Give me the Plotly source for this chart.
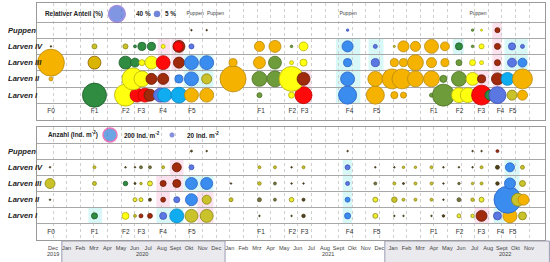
import math
import plotly.graph_objects as go

# ---------------- data ----------------
ROWS = ["Larven I", "Larven II", "Larven III", "Larven IV", "Puppen"]
ROW_Y = {"Larven I": 1, "Larven II": 2, "Larven III": 3, "Larven IV": 4, "Puppen": 5}

base_months = ["Jan", "Feb", "Mrz", "Apr", "May", "Jun", "Jul", "Aug", "Sept", "Okt", "Nov", "Dec"]
month_labels = ["Dec"] + base_months + base_months + base_months[:11]   # Dec 2019 .. Nov 2022
year_labels = ["2019", "2020", "2021", "2022"]
year_pos = [0.0, 6.55, 20.2, 33.2]

f_labels = ["F0", "F1", "F2", "F3", "F4", "F5", "F1", "F2", "F3", "F4", "F5", "F1", "F2", "F3", "F4", "F5"]
f_pos = [-0.15, 3.05, 5.35, 6.5, 8.1, 10.2, 15.3, 17.6, 18.5, 21.8, 23.8, 28.0, 29.9, 31.5, 32.9, 33.8]

puppen_notes = ["Puppen", "Puppen", "Puppen", "Puppen"]
puppen_note_pos = [10.45, 11.95, 21.7, 31.25]

# relative share (%) : (month position, value, colour key)
rel_larven_I = [(3.05, 80, "DG"), (5.33, 67, "YE"), (6.18, 27, "RE"), (6.76, 27, "RE"), (7.13, 20, "DR"),
                (7.9, 27, "PW"), (8.2, 27, "SB"), (9.26, 35, "SB"), (10.18, 27, "OR"), (11.3, 27, "OR"),
                (15.18, 3.5, "OG"), (17.54, 5, "YE"), (18.42, 40, "RE"), (21.66, 45, "BL"), (23.7, 45, "OR"),
                (25.1, 7, "OR"), (25.77, 5, "OR"), (27.83, 2.2, "OG"), (28.71, 67, "OG"), (29.85, 31, "YE"),
                (30.5, 31, "YE"), (31.51, 55, "RE"), (32.13, 14, "DG"), (32.68, 40, "PW"), (33.75, 14, "YO"),
                (34.52, 14, "OR")]
rel_larven_II = [(-0.15, 2.2, "OR"), (5.88, 67, "YE"), (6.54, 35, "YE"), (7.24, 17, "DR"), (8.1, 17, "DR"),
                 (9.26, 9, "BL"), (10.18, 27, "BL"), (11.3, 14, "YO"), (13.24, 94, "OR"), (15.18, 31, "OG"),
                 (16.32, 35, "OG"), (17.54, 86, "YE"), (18.42, 23, "DR"), (21.66, 27, "BL"), (23.7, 31, "OR"),
                 (24.93, 55, "OR"), (25.66, 55, "OR"), (26.65, 35, "OR"), (27.83, 35, "OR"), (28.71, 7, "OG"),
                 (29.85, 31, "OG"), (30.85, 23, "YE"), (31.51, 9, "DR"), (32.68, 20, "DR"), (33.42, 23, "SB"),
                 (34.52, 55, "OR")]
rel_larven_III = [(-0.15, 100, "OR"), (3.05, 23, "GO"), (5.33, 23, "DG"), (6.03, 11, "DG"), (6.54, 5, "YE"),
                  (7.24, 23, "YE"), (8.1, 27, "RE"), (9.26, 17, "DR"), (10.18, 27, "BL"), (11.3, 27, "BL"),
                  (13.24, 9, "OR"), (15.18, 20, "OR"), (16.32, 23, "OG"), (17.54, 2.2, "YE"), (18.42, 7, "YE"),
                  (21.66, 9, "BL"), (23.7, 9, "PW"), (25.1, 9, "OR"), (25.77, 9, "OR"), (26.65, 35, "OR"),
                  (27.83, 14, "OR"), (28.82, 9, "OR"), (29.85, 5, "OG"), (30.85, 5, "YE"), (31.51, 2.2, "YE"),
                  (32.68, 5, "DR"), (33.75, 11, "PW"), (34.52, 11, "BL")]
rel_larven_IV = [(-0.15, 0.3, "DK"), (3.05, 3.5, "YO"), (5.33, 3.5, "YO"), (6.03, 1.2, "DG"), (6.54, 9, "DG"),
                 (7.24, 9, "DG"), (8.1, 2.2, "YE"), (9.26, 20, "DR"), (9.2, 12, "RE"), (10.18, 3.5, "PW"),
                 (15.18, 14, "OR"), (16.32, 20, "OR"), (17.54, 0.9, "OG"), (18.42, 11, "YE"), (21.66, 17, "BL"),
                 (23.7, 2.2, "PW"), (25.1, 0.6, "YO"), (25.77, 17, "OR"), (26.65, 14, "OR"), (27.83, 27, "OR"),
                 (28.82, 11, "OR"), (29.85, 7, "DG"), (30.85, 0.9, "OG"), (31.51, 3.5, "YE"), (32.68, 5, "DR"),
                 (33.75, 7, "PW"), (34.52, 2.2, "PW")]
rel_puppen = [(10.18, 0.3, "DK"), (11.3, 0.3, "DK"), (21.66, 0.8, "PW"), (30.85, 0.8, "OG"),
              (31.51, 0.6, "YE"), (32.68, 3.5, "DR")]

# abundance (Ind. m-2)
abs_larven_I = [(3.05, 37, "DG"), (5.33, 50, "YE"), (6.03, 9, "YO"), (6.47, 16, "DR"), (7.13, 25, "DR"),
                (8.1, 50, "PW"), (9.1, 200, "SB"), (10.18, 172, "YO"), (11.3, 172, "YO"), (15.18, 2.3, "DK"),
                (17.54, 2.3, "DK"), (18.42, 12.5, "DK"), (21.66, 37, "BL"), (23.7, 25, "YR"), (25.1, 2.3, "DK"),
                (25.77, 2.3, "DK"), (27.83, 2.3, "DK"), (28.71, 6.4, "DK"), (29.85, 16, "YR"), (30.85, 12.5, "YR"),
                (31.51, 123, "DR"), (32.68, 65, "PW"), (33.6, 200, "OR"), (34.52, 65, "YO")]
abs_larven_II = [(-0.22, 2.3, "DK"), (6.03, 16, "YR"), (6.47, 16, "YR"), (7.13, 9, "DK"), (8.1, 25, "DR"),
                 (9.1, 37, "PW"), (10.18, 147, "BL"), (11.3, 83, "YO"), (13.09, 16, "YO"), (15.18, 16, "DO"),
                 (16.32, 9, "DO"), (17.54, 21, "YR"), (18.42, 9, "DK"), (21.66, 25, "BL"), (23.7, 25, "YR"),
                 (25.1, 31, "YO"), (25.77, 9, "YO"), (26.65, 9, "YO"), (27.83, 9, "YO"), (28.71, 2.3, "DK"),
                 (29.85, 16, "DO"), (30.85, 12.5, "YO"), (31.51, 25, "YR"), (32.68, 25, "DG"), (33.42, 744, "BL"),
                 (34.19, 172, "YO"), (34.6, 123, "OR")]
abs_larven_III = [(-0.22, 102, "YO"), (3.05, 16, "YO"), (5.33, 21, "DG"), (6.03, 4, "DK"), (6.47, 6.4, "YO"),
                  (7.13, 25, "YR"), (8.1, 37, "DR"), (9.1, 65, "DR"), (10.18, 147, "BL"), (11.3, 147, "BL"),
                  (13.09, 2.3, "DK"), (15.18, 12.5, "YO"), (16.32, 9, "DO"), (17.54, 2.3, "DK"), (18.42, 2.3, "DK"),
                  (21.66, 16, "PW"), (23.7, 9, "DO"), (25.1, 9, "YO"), (25.77, 4, "DK"), (26.65, 9, "YO"),
                  (27.83, 9, "YO"), (28.71, 2.3, "DK"), (29.85, 6.4, "DO"), (30.85, 6.4, "YO"), (31.51, 9, "YO"),
                  (32.68, 12.5, "DK"), (33.6, 123, "BL"), (34.52, 37, "YO")]
abs_larven_IV = [(-0.22, 2.3, "DK"), (3.05, 9, "YO"), (5.33, 2.3, "DK"), (6.03, 2.3, "DK"), (6.47, 9, "DO"),
                 (7.13, 9, "DO"), (8.1, 9, "YO"), (9.1, 83, "DR"), (10.18, 25, "PW"), (15.18, 9, "YO"),
                 (16.32, 9, "YO"), (17.54, 2.3, "DK"), (18.42, 9, "YO"), (21.66, 25, "PW"), (23.7, 2.3, "DK"),
                 (25.1, 2.3, "DK"), (25.77, 6.4, "YO"), (26.65, 6.4, "YO"), (27.83, 9, "YO"), (28.71, 2.3, "DK"),
                 (29.85, 2.3, "DK"), (30.85, 2.3, "DK"), (31.51, 9, "YO"), (32.68, 16, "DK"), (33.6, 83, "BL"),
                 (34.52, 16, "YO")]
abs_puppen = [(10.18, 4, "DK"), (11.3, 2.3, "DK"), (21.66, 2.3, "DK"), (30.85, 2.3, "DK"), (31.51, 2.3, "DK"),
              (32.68, 9, "DR")]

# faint background highlights: (m0, m1, row0, row1, colour)
top_highlights = [(7.7, 8.6, 0.5, 4.5, "pink"), (8.7, 9.6, 2.5, 4.5, "pink"), (9.6, 11.8, 1.5, 3.5, "cyan"),
                  (18.0, 19.0, 0.5, 2.5, "pink"), (20.8, 22.6, 0.5, 4.5, "cyan"), (23.2, 24.3, 2.5, 4.5, "cyan"),
                  (29.4, 30.2, 3.5, 4.5, "cyan"), (31.0, 32.1, 0.5, 2.5, "pink"), (32.3, 33.0, 0.5, 5.5, "pink"),
                  (33.2, 34.9, 2.5, 4.5, "cyan")]
bot_highlights = [(2.6, 3.6, 0.5, 1.5, "cyan"), (7.6, 8.6, 0.5, 1.5, "cyan"), (7.6, 8.6, 1.5, 3.5, "pink"),
                  (8.6, 9.6, 2.5, 4.5, "pink"), (8.6, 9.6, 0.5, 1.5, "cyan"), (9.6, 11.8, 2.5, 3.5, "cyan"),
                  (10.6, 11.8, 0.5, 2.5, "pink"), (21.3, 22.0, 0.5, 4.5, "cyan"), (31.0, 32.1, 0.5, 1.5, "pink"),
                  (32.4, 33.2, 0.5, 1.5, "cyan"), (33.2, 34.3, 2.5, 4.5, "cyan")]

# ---------------- styles ----------------
FILL = {"OR": "#F5B300", "YO": "#C9C22A", "GO": "#D9B400", "YE": "#FFFF10", "DG": "#2F8C40", "OG": "#6E9C3A",
        "RE": "#FF0A0A", "DR": "#A02A0C", "BL": "#3A8CEE", "PW": "#5B78E2", "SB": "#10ACF0", "DK": "#4F4418",
        "DO": "#767444", "YR": "#EEEE30"}
LINE = {"OR": "#B88A10", "YO": "#8C8614", "GO": "#8A5A00", "YE": "#B8B010", "DG": "#1E5A2A", "OG": "#4E7226",
        "RE": "#C00000", "DR": "#6A1A04", "BL": "#2A62C4", "PW": "#3E52B6", "SB": "#0A86C4", "DK": "#3A3010",
        "DO": "#55532A", "YR": "#8C8614"}
HL = {"pink": "#FCE2EF", "cyan": "#D8F7F7"}

W, H = 550, 262
X0, X1 = 37, 545
XR = [(X0 - 53) / 13.6, (X1 - 53) / 13.6]
TOP_PX = (3, 120)
BOT_PX = (127, 240)
TOP_YR = [-0.53, 6.67]
BOT_YR = [-0.49, 6.49]


def top_d(v):
    return 17 * math.sqrt(v / 40)


def bot_d(v):
    return 14 * math.sqrt(v / 200)


def m2px(m):
    return X0 + (m - XR[0]) / (XR[1] - XR[0]) * (X1 - X0)


fig = go.Figure()

panels = [
    ("x", "y", top_d, {"Larven I": rel_larven_I, "Larven II": rel_larven_II, "Larven III": rel_larven_III,
                       "Larven IV": rel_larven_IV, "Puppen": rel_puppen}),
    ("x2", "y2", bot_d, {"Larven I": abs_larven_I, "Larven II": abs_larven_II, "Larven III": abs_larven_III,
                         "Larven IV": abs_larven_IV, "Puppen": abs_puppen}),
]

for xa, ya, dfun, rows in panels:
    for r in ROWS:
        pts = rows[r]
        fig.add_trace(go.Scatter(
            x=[p[0] for p in pts], y=[ROW_Y[r]] * len(pts), mode="markers", xaxis=xa, yaxis=ya,
            hoverinfo="skip", showlegend=False,
            marker=dict(size=[dfun(p[1]) for p in pts], sizemode="diameter",
                        color=[FILL[p[2]] for p in pts],
                        line=dict(color=[LINE[p[2]] for p in pts], width=0.8), opacity=1)))
    # F labels
    fig.add_trace(go.Scatter(x=f_pos, y=[0] * len(f_pos), mode="text", text=f_labels, xaxis=xa, yaxis=ya,
                             textfont=dict(family="Liberation Sans", size=6.5, color="#333333"),
                             hoverinfo="skip", showlegend=False))

# legend bubbles
fig.add_trace(go.Scatter(x=[4.7, 7.65], y=[6, 6], mode="markers", xaxis="x", yaxis="y", hoverinfo="skip",
                         showlegend=False,
                         marker=dict(size=[top_d(40), top_d(5)], color=["#4D6BD6", "#3352D0"],
                                     line=dict(color=["#8A5CD0", "#3040A0"], width=[1.2, 0.6]))))
fig.add_trace(go.Scatter(x=[4.19, 8.75], y=[6, 6], mode="markers", xaxis="x2", yaxis="y2", hoverinfo="skip",
                         showlegend=False,
                         marker=dict(size=[bot_d(200), bot_d(20)], color=["#2F7FD8", "#5563D8"],
                                     line=dict(color=["#E0409C", "#4050B0"], width=[1.5, 0.6]))))

# Puppen notes in the top legend row
fig.add_trace(go.Scatter(x=puppen_note_pos, y=[6] * len(puppen_note_pos), mode="text", text=puppen_notes,
                         xaxis="x", yaxis="y", textfont=dict(family="Liberation Sans", size=5, color="#444444"),
                         hoverinfo="skip", showlegend=False))

shapes = []
for hl, xr, yr in ((top_highlights, "x", "y"), (bot_highlights, "x2", "y2")):
    for m0, m1, r0, r1, c in hl:
        shapes.append(dict(type="rect", xref=xr, yref=yr, x0=m0, x1=m1, y0=r0, y1=r1,
                           fillcolor=HL[c], line=dict(width=0), layer="below"))

# year boxes under the axis (2020 and 2022)
for m0, m1 in ((0.65, 12.65), (24.4, 36.5)):
    shapes.append(dict(type="rect", xref="paper", yref="paper", x0=m2px(m0) / W, x1=m2px(m1) / W,
                       y0=-0.02, y1=1 - 241 / H, fillcolor="#E9E9EE", line=dict(color="#9C9CB4", width=1),
                       layer="below"))

ann = []
label_font = dict(family="Liberation Sans Narrow, Arial Narrow, Liberation Sans", size=7.6, color="#222222")
for ya in ("y", "y2"):
    for r in ROWS:
        ann.append(dict(xref="paper", yref=ya, x=6 / W, y=ROW_Y[r], xanchor="left", yanchor="middle",
                        text=f"<b><i>{r}</i></b>", showarrow=False, font=label_font))

bold6 = dict(family="Liberation Sans", size=6.4, color="#222222")
ann += [
    dict(xref="x", yref="y", x=-0.74, y=6, xanchor="left", text="<b>Relativer Anteil (%)</b>", showarrow=False,
         font=bold6),
    dict(xref="x", yref="y", x=5.96, y=6, xanchor="left", text="<b>40 %</b>", showarrow=False, font=bold6),
    dict(xref="x", yref="y", x=8.1, y=6, xanchor="left", text="<b>5 %</b>", showarrow=False, font=bold6),
    dict(xref="x2", yref="y2", x=-0.55, y=6, xanchor="left", text="<b>Anzahl (Ind. m<sup>-2</sup>)</b>",
         showarrow=False, font=bold6),
    dict(xref="x2", yref="y2", x=5.05, y=6, xanchor="left", text="<b>200 Ind. m<sup>-2</sup></b>",
         showarrow=False, font=bold6),
    dict(xref="x2", yref="y2", x=9.7, y=6, xanchor="left", text="<b>20 Ind. m<sup>-2</sup></b>",
         showarrow=False, font=bold6),
]
for yl, yp in zip(year_labels, year_pos):
    ann.append(dict(xref="x2", yref="paper", x=yp, y=1 - 253.5 / H, text=yl, showarrow=False,
                    yanchor="middle", font=dict(family="Liberation Sans", size=5.6, color="#444444")))

axis_common = dict(range=XR, tickvals=list(range(36)), showgrid=True, gridcolor="#CFCFCF", griddash="dot",
                   gridwidth=1, zeroline=False, showline=True, mirror=True, linecolor="#9A9A9A", linewidth=1,
                   ticks="")
yaxis_common = dict(tickvals=[0.5, 1.5, 2.5, 3.5, 4.5, 5.5], showgrid=True, gridcolor="#A8A8A8", gridwidth=1,
                    showticklabels=False, zeroline=False, showline=True, mirror=True, linecolor="#9A9A9A",
                    linewidth=1, ticks="")

fig.update_layout(
    width=W, height=H, margin=dict(l=0, r=0, t=0, b=0), paper_bgcolor="white", plot_bgcolor="white",
    showlegend=False,
    xaxis=dict(domain=[X0 / W, X1 / W], anchor="y", showticklabels=False, **axis_common),
    xaxis2=dict(domain=[X0 / W, X1 / W], anchor="y2", matches="x", showticklabels=True, ticktext=month_labels,
                tickfont=dict(family="Liberation Sans", size=5.6, color="#444444"), tickangle=0,
                ticklabelstandoff=2, **axis_common),
    yaxis=dict(domain=[1 - TOP_PX[1] / H, 1 - TOP_PX[0] / H], range=TOP_YR, anchor="x", **yaxis_common),
    yaxis2=dict(domain=[1 - BOT_PX[1] / H, 1 - BOT_PX[0] / H], range=BOT_YR, anchor="x2", **yaxis_common),
    shapes=shapes, annotations=ann,
)

fig.write_html("out.html", config={"displayModeBar": False, "staticPlot": True},
               post_script="document.body.style.margin='0px';document.body.style.overflow='hidden';")
